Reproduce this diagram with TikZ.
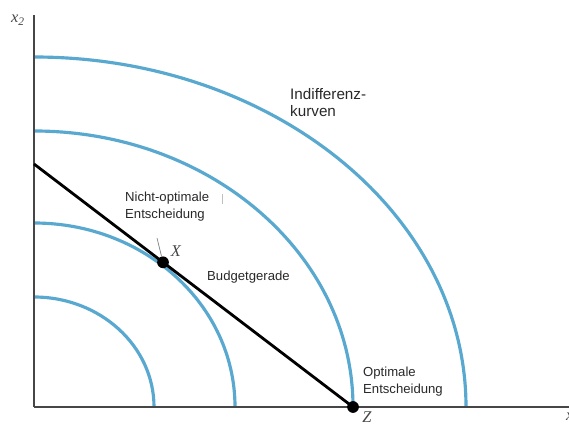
\documentclass[tikz,border=0pt]{standalone}
\usepackage{fontspec}
\setmainfont{Liberation Sans}
\newfontfamily\mathserif{Liberation Serif}
\definecolor{indiff}{RGB}{88,168,208}
\definecolor{axisgray}{RGB}{70,70,70}
\definecolor{labelgray}{RGB}{40,40,40}
\tikzset{
  icurve/.style={draw=indiff, line width=2.7pt},
  axisline/.style={draw=axisgray, line width=1.7pt},
  budget/.style={draw=black, line width=2.4pt},
  dotnode/.style={circle, fill=black, inner sep=0pt, minimum size=10pt},
  lbl/.style={text=labelgray, inner sep=0pt, align=left, font=\fontsize{11.2}{14.5}\selectfont},
  biglbl/.style={text=labelgray, inner sep=0pt, align=left, font=\fontsize{13}{14.5}\selectfont},
  varlbl/.style={text=axisgray, inner sep=0pt, font=\fontsize{14}{14}\mathserif\itshape}
}
\begin{document}
\begin{tikzpicture}[x=0.03cm, y=0.03cm]
\useasboundingbox (-34,-19) rectangle (535,407);

\coordinate (O) at (0,0);
\coordinate (Xend) at (545,0);
\coordinate (Yend) at (0,392);
\coordinate (B) at (0,243);
\coordinate (Zp) at (319,0);
\coordinate (Xp) at (129,144.7);
\coordinate (ptr) at (123,169);

\path[icurve] (120,0) arc[start angle=0, end angle=90, x radius=120, y radius=110];
\path[icurve] (201,0) arc[start angle=0, end angle=90, x radius=201, y radius=184];
\path[icurve] (319,0) arc[start angle=0, end angle=90, x radius=319, y radius=276];
\path[icurve] (432,0) arc[start angle=0, end angle=90, x radius=432, y radius=350];

\path[axisline] (O) -- (Xend);
\path[axisline] (O) -- (Yend);
\path[budget] (B) -- (Zp);

\node[dotnode] (X) at (Xp) {};
\node[dotnode] (Z) at (Zp) {};

\path[draw=gray, line width=0.6pt] (ptr) -- (X);
\path[draw=gray!50, line width=0.5pt] (188,203) -- (188,213);

\node[varlbl] (x2) at (-16,387) {x\textsubscript{2}};
\node[varlbl] (x1) at (539,-11) {x\textsubscript{1}};
\node[varlbl] (Xl) at (142,156) {X};
\node[varlbl] (Zl) at (333,-10.5) {Z};

\node[biglbl, anchor=west] (indiff) at (256,304.5) {Indifferenz-\\kurven};
\node[lbl, anchor=west] (nicht) at (91,200.5) {Nicht-optimale\\Entscheidung};
\node[lbl, anchor=west] (bg) at (173,130) {Budgetgerade};
\node[lbl, anchor=west] (opt) at (329,25) {Optimale\\Entscheidung};
\end{tikzpicture}
\end{document}
